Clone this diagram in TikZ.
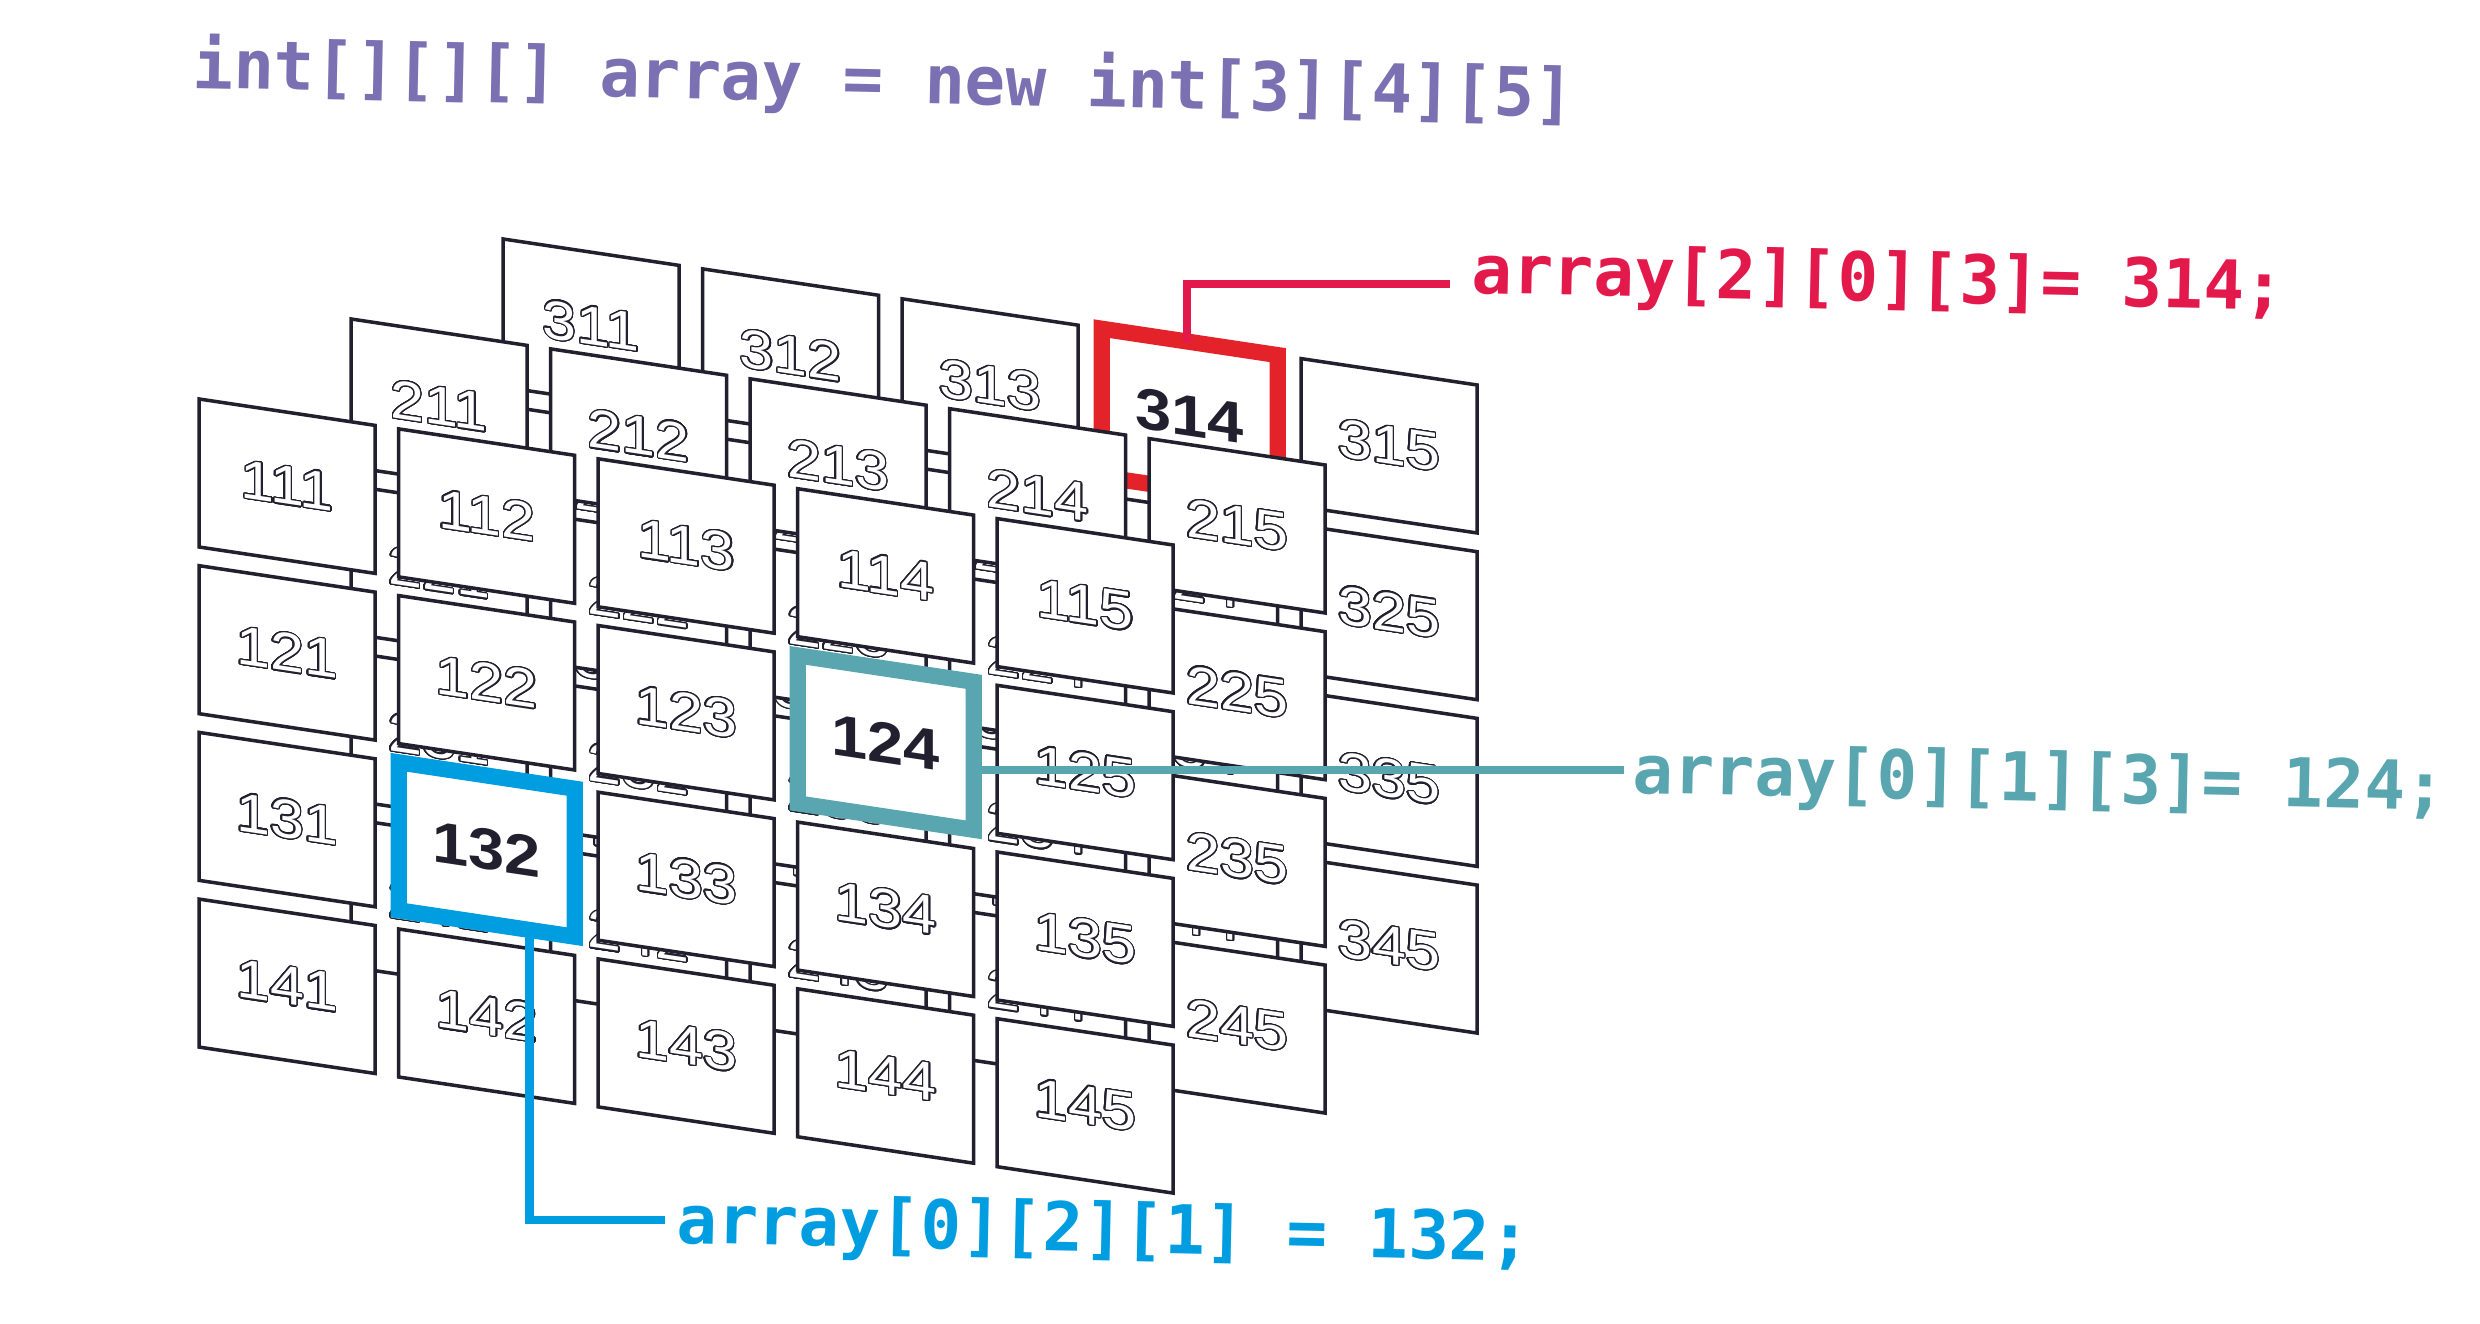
\documentclass[tikz,border=0pt]{standalone}
\usepackage{fontspec}
\usepackage[copies]{contour}
\setmainfont{Liberation Sans}
\newfontfamily\codefont{DejaVu Sans Mono}
\definecolor{panelline}{HTML}{22202E}
\definecolor{codepurple}{HTML}{7B70B2}
\definecolor{codered}{HTML}{E3194C}
\definecolor{framered}{HTML}{E42229}
\definecolor{codeteal}{HTML}{5AA6B0}
\definecolor{codeblue}{HTML}{009EE0}
\contourlength{0.35pt}
\contournumber{32}
\newcommand{\outnum}[1]{\contour{panelline}{\textcolor{white}{#1}}}
\newcommand{\boldnum}[1]{\textbf{#1}}
\let\numfmt\outnum
\tikzset{
  panel/.style={draw=panelline,fill=white,line width=1pt},
  hl314/.style={draw=framered,line width=4.6pt},
  hl124/.style={draw=codeteal,line width=4.6pt},
  hl132/.style={draw=codeblue,line width=4.6pt},
  num/.style={inner sep=0pt,yslant=-0.15,xscale=1.12,transform shape,
    font=\fontsize{15.5}{15.5}\selectfont},
  bnum/.style={text=panelline,font=\fontsize{16.5}{16.5}\selectfont\bfseries,
    /utils/exec={\let\numfmt\boldnum}},
  num314/.style={bnum},
  num124/.style={bnum},
  num132/.style={bnum},
  code/.style={inner sep=0pt,anchor=base west,rotate=-1.2,
    font=\codefont\bfseries\fontsize{19.2}{19.2}\selectfont},
  leader/.style={line width=2.3pt}
}

\begin{document}
\begin{tikzpicture}[x=0.01cm,y=-0.01cm]
  \useasboundingbox (0,0) rectangle (2480,1324);
  % declaration
  \node[code,text=codepurple] (decl) at (192,88) {int[][][] array = new int[3][4][5]};
  % panels, back layer first
  \foreach \layer in {3,2,1}
    \foreach \row in {1,...,4}
      \foreach \col in {1,...,5} {
        \pgfmathsetmacro\px{199.2+199.5*(\col-1)+152*(\layer-1)}
        \pgfmathsetmacro\py{399+29.9*(\col-1)+166.7*(\row-1)-80*(\layer-1)}
        \draw[panel,hl\layer\row\col/.try] (\px,\py) -- ++(176,26.4)
          -- ++(0,148) -- ++(-176,-26.4) -- cycle;
        \node[num,num\layer\row\col/.try] (p\layer\row\col)
          at (\px+88,\py+87.2) {\numfmt{\layer\row\col}};
      }
  % labels
  \node[code,text=codered] (lbl314) at (1471,293) {array[2][0][3]= 314;};
  \node[code,text=codeteal] (lbl124) at (1632,793) {array[0][1][3]= 124;};
  \node[code,text=codeblue] (lbl132) at (676,1243) {array[0][2][1] = 132;};
  % leaders
  \coordinate (f314) at (1187,341.5);
  \coordinate (e314) at (1450,284);
  \coordinate (f124) at (973.7,770);
  \coordinate (e124) at (1624,770);
  \coordinate (f132) at (529.5,930);
  \coordinate (e132) at (665,1220);
  \draw[leader,codered] (f314) |- (e314);
  \draw[leader,codeteal] (f124) -- (e124);
  \draw[leader,codeblue] (f132) |- (e132);
\end{tikzpicture}
\end{document}
